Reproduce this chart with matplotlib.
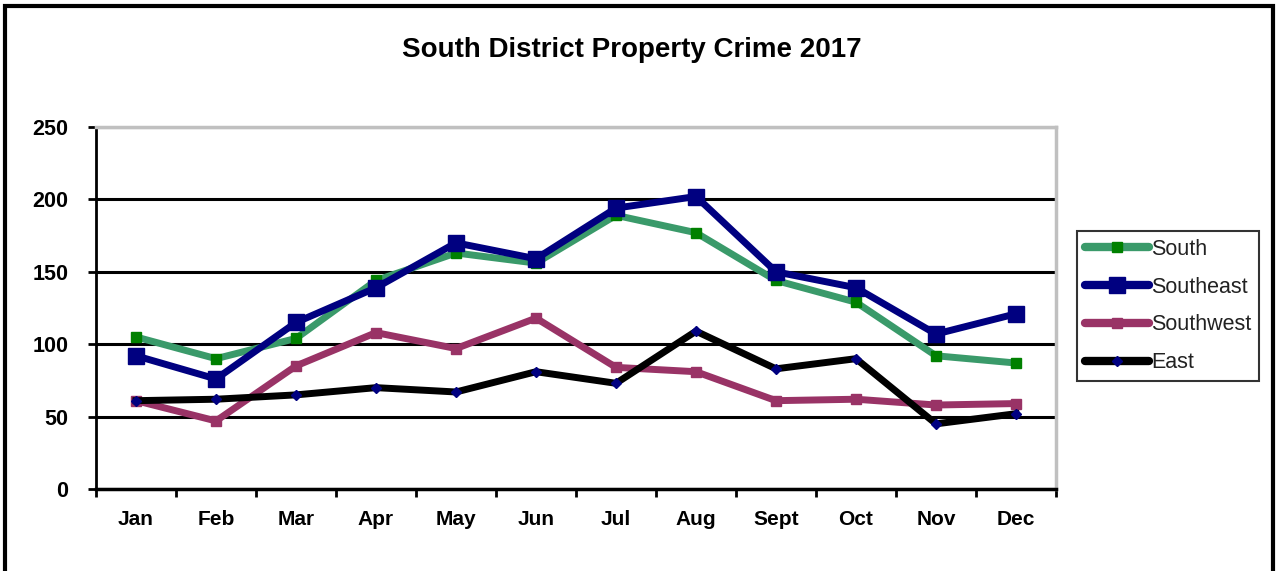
import matplotlib.pyplot as plt
from matplotlib.patches import Rectangle
from matplotlib.ticker import MultipleLocator, FixedLocator

months = ["Jan", "Feb", "Mar", "Apr", "May", "Jun", "Jul", "Aug", "Sept", "Oct", "Nov", "Dec"]
south = [105, 90, 104, 144, 163, 156, 189, 177, 144, 129, 92, 87]
southeast = [92, 76, 115, 139, 170, 159, 194, 202, 150, 139, 107, 121]
southwest = [61, 47, 85, 108, 97, 118, 84, 81, 61, 62, 58, 59]
east = [61, 62, 65, 70, 67, 81, 73, 109, 83, 90, 45, 52]

bold_font = ["Liberation Sans Narrow", "Liberation Sans", "DejaVu Sans"]
plt.rcParams["font.family"] = ["Liberation Sans", "DejaVu Sans"]

fig = plt.figure(figsize=(12.81, 5.71), dpi=100)
fig.patches.append(Rectangle((5 / 1281, -0.05), 1268 / 1281, 1.05 - 6 / 571,
                             transform=fig.transFigure, fill=False,
                             edgecolor="black", linewidth=3))

ax = fig.add_axes([96 / 1281, (571 - 489) / 571, 960 / 1281, 362 / 571])
x = list(range(len(months)))

ax.plot(x, south, color="#3a9a6a", lw=5, marker="s", ms=7,
        mfc="#008000", mec="#008000", label="South", zorder=4)
ax.plot(x, southeast, color="#000080", lw=5, marker="s", ms=11,
        mfc="#000080", mec="#000080", label="Southeast", zorder=5)
ax.plot(x, southwest, color="#993366", lw=5, marker="s", ms=7,
        mfc="#993366", mec="#993366", label="Southwest", zorder=3)
ax.plot(x, east, color="black", lw=5, marker="D", ms=5,
        mfc="#000080", mec="#000080", label="East", zorder=3)

ax.set_xlim(-0.5, 11.5)
ax.set_ylim(0, 250)
ax.yaxis.set_major_locator(MultipleLocator(50))
ax.grid(axis="y", color="black", lw=2.2, zorder=1)
ax.set_axisbelow(True)

ax.xaxis.set_major_locator(FixedLocator(x))
ax.set_xticklabels(months, fontsize=15, fontweight="bold", family=bold_font)
ax.xaxis.set_minor_locator(FixedLocator([i - 0.5 for i in range(13)]))
ax.tick_params(axis="x", which="major", length=0, pad=15)
ax.tick_params(axis="x", which="minor", length=6, width=2, direction="out")
ax.tick_params(axis="y", length=6, width=2, direction="out", pad=14)
for lab in ax.get_yticklabels():
    lab.set_fontsize(15.5)
    lab.set_fontweight("bold")
    lab.set_family(bold_font)

ax.spines["left"].set_linewidth(2)
ax.spines["bottom"].set_linewidth(2.5)
ax.spines["top"].set_color("#c0c0c0")
ax.spines["right"].set_color("#c0c0c0")
ax.spines["top"].set_linewidth(2.5)
ax.spines["right"].set_linewidth(2.5)

fig.text(632 / 1281, 1 - 50 / 571, "South District Property Crime 2017",
         ha="center", va="center", fontsize=20, fontweight="bold", family=bold_font)

leg = ax.legend(loc="center left", bbox_to_anchor=(1077 / 1281, 1 - 306 / 571),
                bbox_transform=fig.transFigure, borderaxespad=0, fontsize=15.5,
                frameon=True, fancybox=False, edgecolor="black", handlelength=3.0,
                handletextpad=0.1, labelspacing=0.78, borderpad=0.35)
leg.get_frame().set_linewidth(1.5)
for line in leg.get_lines():
    line.set_linewidth(6)
    line.set_solid_capstyle("round")
for text in leg.get_texts():
    text.set_color("#222222")

fig.savefig("out.png", dpi=100)
